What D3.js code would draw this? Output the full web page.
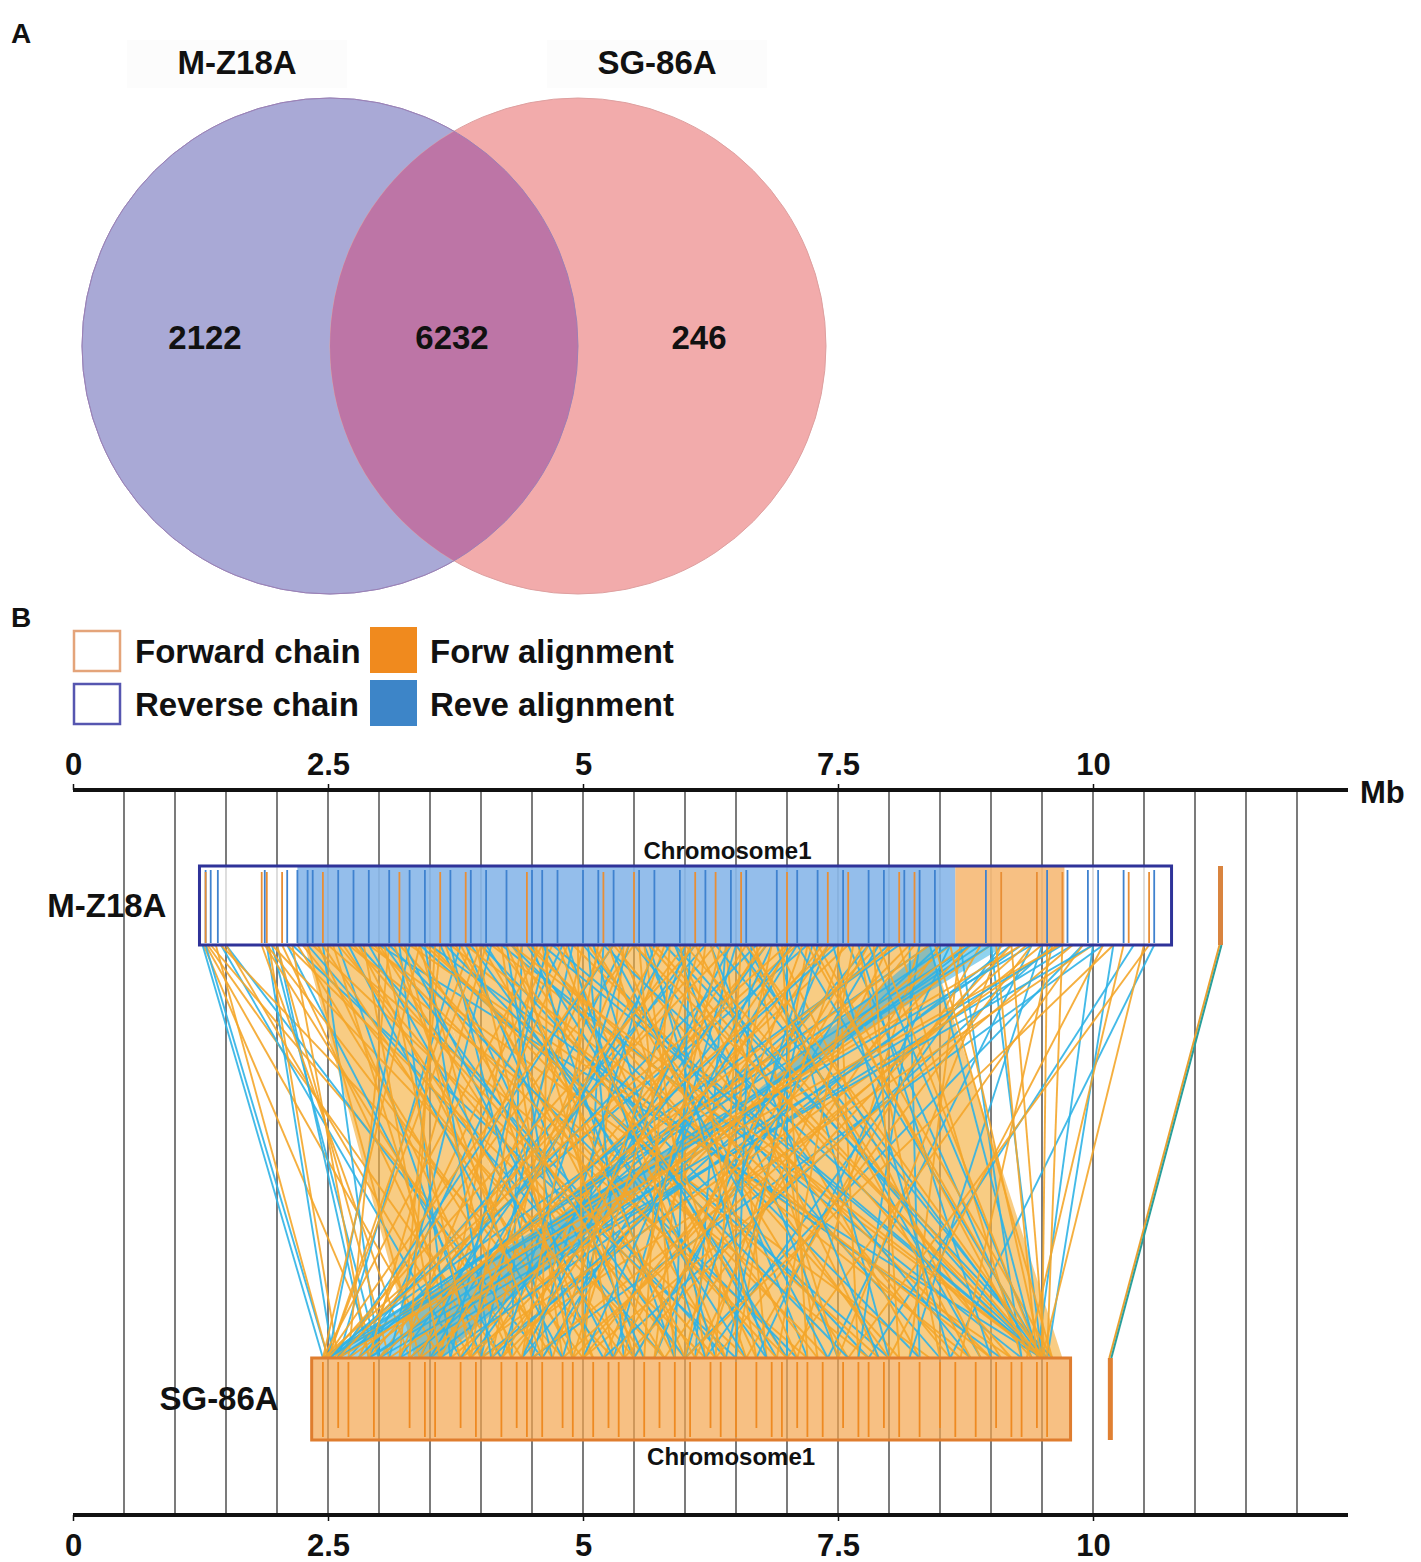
<!DOCTYPE html>
<html>
<head>
<meta charset="utf-8">
<script src="https://cdn.jsdelivr.net/npm/d3@7"></script>
<style>
  body { margin: 0; background: #fff; }
  text { font-family: "Liberation Sans", Arial, sans-serif; font-weight: bold; fill: #111; }
</style>
</head>
<body>
<svg id="chart" width="1421" height="1562"></svg>
<script>
// ---- panel A data ----
var vennSets = ["M-Z18A", "SG-86A"];
var vennCounts = [2122, 6232, 246];   // only left, shared, only right

// ---- panel B data (Mb) ----
var majorTicks = [0, 2.5, 5, 7.5, 10];
var gridTicks = [0.5, 1, 1.5, 2, 2.5, 3, 3.5, 4, 4.5, 5, 5.5, 6, 6.5, 7, 7.5, 8, 8.5, 9, 9.5, 10, 10.5, 11, 11.5, 12];
var axisEnd = 12.5;
var genomes = ["M-Z18A", "SG-86A"];
var chromTop = [1.24, 10.77];      // M-Z18A Chromosome1
var chromBottom = [2.34, 9.78];    // SG-86A Chromosome1
var contigTop = 11.25;             // small extra contig
var contigBottom = 10.17;
var topBlueFill = [2.2, 8.65];
var topOrangeFill = [8.65, 9.72];

var topBlueTicks = [1.3, 1.35, 1.42, 1.88, 2.1, 2.2, 2.3, 2.35, 2.6, 2.75, 2.9, 3.1, 3.3, 3.45, 3.7, 3.9, 4.05, 4.25, 4.5, 4.6, 4.75, 5.0, 5.15, 5.3, 5.55, 5.7, 5.95, 6.2, 6.45, 6.6, 6.9, 7.1, 7.3, 7.55, 7.8, 7.95, 8.15, 8.3, 8.45, 8.95, 9.55, 9.75, 9.95, 10.05, 10.3, 10.6];
var topOrangeTicks = [1.3, 1.85, 1.9, 2.05, 2.45, 3.2, 3.6, 3.85, 4.45, 5.2, 5.5, 6.1, 6.3, 6.55, 7.0, 7.4, 7.6, 8.1, 8.25, 9.1, 9.45, 9.7, 10.35, 10.55];
var bottomTicks = [2.45, 2.6, 2.7, 2.95, 3.3, 3.45, 3.55, 3.8, 3.95, 4.2, 4.35, 4.45, 4.6, 4.8, 4.9, 5.1, 5.25, 5.35, 5.6, 5.75, 5.9, 6.05, 6.25, 6.35, 6.5, 6.7, 6.85, 6.95, 7.1, 7.2, 7.35, 7.55, 7.7, 7.8, 7.95, 8.1, 8.3, 8.5, 8.65, 8.85, 9.05, 9.2, 9.3, 9.45, 9.55];

// blocks: [top start, top end, bottom start, bottom end]
var forwardBands = [
  [2.27, 3.5, 3.35, 4.6],
  [3.5, 5.4, 4.6, 6.3],
  [5.4, 6.9, 6.3, 8.0],
  [6.9, 8.4, 8.0, 9.7]
];
var reverseBands = [
  [8.4, 9.15, 3.6, 2.45]
];

// single links: [top, bottom]
var forwardLinks = [
  [1.28, 3.0], [1.3, 3.6], [1.32, 4.2], [1.35, 4.8], [1.4, 2.5], [1.45, 5.3], [1.5, 3.9],
  [1.85, 3.3], [1.88, 4.4], [1.9, 5.0], [1.92, 2.6], [1.95, 5.8], [2.0, 3.1], [2.05, 4.0],
  [2.1, 6.2], [2.15, 2.9], [2.2, 4.7], [2.25, 5.5], [2.3, 3.4], [2.35, 6.6], [2.4, 4.3],
  [2.45, 5.1], [2.5, 7.2], [2.55, 3.8], [2.6, 6.0], [2.7, 7.8], [2.8, 4.9], [2.9, 8.4],
  [3.0, 5.6], [3.1, 2.7], [3.2, 6.9], [3.3, 9.2], [3.4, 4.5], [3.5, 7.4], [3.6, 3.2],
  [3.7, 8.8], [3.8, 5.9], [3.9, 2.5], [4.0, 6.4], [4.1, 9.5], [4.2, 4.8], [4.3, 7.0],
  [4.4, 3.6], [4.5, 8.1], [4.6, 5.3], [4.7, 2.8], [4.8, 6.7], [4.9, 9.0], [5.0, 4.1],
  [5.1, 7.6], [5.2, 3.4], [5.3, 8.6], [5.4, 5.0], [5.5, 2.6], [5.6, 6.2], [5.7, 9.4],
  [5.8, 4.4], [5.9, 7.9], [6.0, 3.0], [6.1, 8.3], [6.2, 5.7], [6.3, 2.9], [6.4, 6.8],
  [6.5, 9.1], [6.6, 4.0], [6.7, 7.3], [6.8, 3.5], [6.9, 8.9], [7.0, 5.2], [7.1, 2.55],
  [7.2, 6.5], [7.3, 9.6], [7.4, 4.6], [7.5, 7.7], [7.6, 3.3], [7.7, 8.5], [7.8, 5.5],
  [7.9, 3.9], [8.0, 6.1], [8.1, 9.3], [8.2, 4.2], [8.3, 7.1], [8.4, 2.7], [8.5, 5.8],
  [8.6, 3.7], [8.7, 8.2], [8.8, 4.9], [8.9, 6.6], [9.0, 3.1], [9.1, 7.5], [9.2, 5.4],
  [9.3, 2.5], [9.4, 6.3], [9.5, 4.5], [9.6, 8.7], [9.65, 3.8], [9.7, 9.55],
  [9.8, 5.0], [9.9, 7.0], [10.0, 4.0], [10.1, 8.0], [10.2, 6.0], [10.3, 9.35], [10.5, 9.5], [10.55, 7.6],
  [3.05, 3.9], [3.25, 4.3], [3.45, 7.9], [3.65, 5.1], [3.85, 9.0], [4.05, 2.9], [4.25, 6.0],
  [4.45, 8.7], [4.65, 4.6], [4.85, 3.2], [5.05, 8.0], [5.25, 6.6], [5.45, 3.8], [5.65, 9.2],
  [5.85, 5.6], [6.05, 4.7], [6.25, 7.5], [6.45, 2.6], [6.65, 8.8], [6.85, 6.0], [7.05, 4.3],
  [7.25, 9.4], [7.45, 3.0], [7.65, 6.9], [7.85, 8.1], [8.05, 2.8], [8.25, 5.0], [8.45, 9.6],
  [8.75, 3.4], [9.05, 9.45], [9.35, 4.8], [9.55, 9.5], [9.68, 2.6],
  [5.5, 9.5], [6.0, 9.5], [6.6, 9.52], [7.2, 9.5], [7.9, 9.48], [8.6, 9.5], [9.2, 9.53], [4.3, 9.5],
  [3.4, 2.45], [4.0, 2.5], [4.6, 2.45], [5.3, 2.48], [6.1, 2.5], [7.0, 2.45],
  [2.65, 5.4], [2.75, 6.3], [2.85, 3.6], [2.95, 7.0], [3.15, 4.6], [3.35, 5.8], [3.55, 3.3],
  [3.75, 6.1], [3.95, 4.9], [4.15, 7.3], [4.35, 5.5], [4.55, 3.9], [4.75, 6.4], [4.95, 5.0],
  [5.15, 4.4], [5.35, 7.1], [5.55, 5.9], [5.75, 3.6], [5.95, 6.7], [6.15, 4.9], [6.35, 5.4],
  [6.55, 6.3], [6.75, 4.2], [6.95, 7.2], [7.15, 5.7], [7.35, 4.1], [7.55, 6.2], [7.75, 5.3]
];
var reverseLinks = [
  [1.27, 2.45], [1.3, 2.5], [1.45, 3.8], [1.5, 4.6], [1.9, 2.55], [1.95, 3.0], [2.0, 2.9],
  [2.1, 4.2], [2.15, 6.5], [2.3, 5.8], [2.45, 3.0], [2.6, 4.0],
  [2.8, 6.4], [3.0, 9.5], [3.2, 3.7], [3.4, 8.0], [3.6, 5.5], [3.8, 2.6], [4.0, 7.8],
  [4.2, 9.3], [4.4, 4.3], [4.6, 6.9], [4.8, 2.9], [5.0, 8.5], [5.2, 5.0], [5.4, 3.4],
  [5.6, 7.2], [5.8, 9.6], [6.0, 4.8], [6.2, 2.7], [6.4, 6.1], [6.6, 8.9], [6.8, 3.9],
  [7.0, 7.0], [7.2, 2.5], [7.4, 5.7], [7.6, 9.4], [7.8, 4.4], [8.0, 3.3], [8.2, 8.3],
  [8.4, 2.6], [8.6, 6.7], [8.8, 3.5], [9.0, 9.5], [9.2, 4.0], [9.4, 7.4], [9.6, 5.2],
  [9.8, 3.2], [9.9, 6.0], [10.0, 9.45], [10.1, 4.5], [10.2, 9.55], [10.4, 7.8], [10.6, 8.6],
  [2.9, 5.2], [3.1, 7.1], [3.3, 2.5], [3.5, 9.1], [3.7, 4.7], [3.9, 6.8], [4.1, 3.1],
  [4.3, 8.3], [4.5, 5.9], [4.7, 9.5], [4.9, 4.0], [5.1, 6.3], [5.3, 2.6], [5.5, 8.8],
  [5.7, 4.5], [5.9, 7.5], [6.1, 3.2], [6.3, 9.55], [6.5, 5.3], [6.7, 2.8], [6.9, 8.0],
  [7.1, 4.6], [7.3, 6.4], [7.5, 3.0], [7.7, 9.0], [7.9, 5.5], [8.1, 2.45], [8.3, 7.7],
  [8.5, 4.1], [8.7, 9.3], [8.9, 2.9], [9.1, 6.2], [9.3, 3.6], [9.5, 8.2],
  [5.2, 9.5], [5.9, 9.48], [6.5, 9.5], [7.1, 9.52], [7.8, 9.5], [8.4, 9.46], [4.6, 9.5],
  [8.6, 2.5], [8.8, 2.45], [9.0, 2.6], [9.4, 2.5], [9.7, 2.9], [10.0, 3.0],
  [2.7, 4.8], [3.05, 6.0], [3.25, 5.3], [3.45, 4.1], [3.65, 7.6], [3.85, 5.6], [4.05, 6.6],
  [4.25, 4.9], [4.45, 7.0], [4.65, 3.7], [4.85, 6.2], [5.05, 5.4], [5.25, 7.4], [5.45, 4.2],
  [5.65, 6.8], [5.85, 3.5], [6.05, 5.9], [6.25, 7.9], [6.45, 4.4], [6.65, 6.5], [6.85, 5.0],
  [7.05, 3.8], [7.25, 6.0], [7.45, 8.6]
];

var legendItems = [
  { label: "Forward chain", kind: "chainF" },
  { label: "Reverse chain", kind: "chainR" },
  { label: "Forw alignment", kind: "alnF" },
  { label: "Reve alignment", kind: "alnR" }
];

var svg = d3.select("#chart");

// ================= Panel A : Venn =================
svg.append("text").attr("x", 11).attr("y", 43).style("font-size", "28px").text("A");

var vx = d3.scaleLinear().domain([0, 1]).range([330, 578]);   // circle centres
var vr = 248, vcy = 346;
var hdrX = [237, 657];
var defs = svg.append("defs");
defs.append("clipPath").attr("id", "leftClip")
  .append("circle").attr("cx", vx(0)).attr("cy", vcy).attr("r", vr);

var venn = svg.append("g");
venn.selectAll("rect.hdr").data(vennSets).enter().append("rect")
  .attr("x", function (d, i) { return hdrX[i] - 110; })
  .attr("y", 40).attr("width", 220).attr("height", 48)
  .attr("fill", "#fcfcfc");
venn.append("circle").attr("cx", vx(0)).attr("cy", vcy).attr("r", vr)
  .attr("fill", "#a9a9d6").attr("stroke", "#9a9ac8").attr("stroke-width", 1);
venn.append("circle").attr("cx", vx(1)).attr("cy", vcy).attr("r", vr)
  .attr("fill", "#f2abab").attr("stroke", "#dea0a0").attr("stroke-width", 1);
venn.append("circle").attr("cx", vx(1)).attr("cy", vcy).attr("r", vr)
  .attr("clip-path", "url(#leftClip)")
  .attr("fill", "#bd75a6");
venn.append("circle").attr("cx", vx(0)).attr("cy", vcy).attr("r", vr)
  .attr("fill", "none").attr("stroke", "#9d80b5").attr("stroke-width", 1);

venn.selectAll("text.set").data(vennSets).enter().append("text")
  .attr("x", function (d, i) { return hdrX[i]; })
  .attr("y", 74).attr("text-anchor", "middle").style("font-size", "33px")
  .text(function (d) { return d; });
venn.selectAll("text.cnt").data(vennCounts).enter().append("text")
  .attr("x", function (d, i) { return vx(0) - 125 + i * 247; })
  .attr("y", 349).attr("text-anchor", "middle").style("font-size", "33px")
  .text(function (d) { return d; });

// ================= Panel B : synteny =================
svg.append("text").attr("x", 11).attr("y", 627).style("font-size", "28px").text("B");

// legend
var leg = svg.append("g").selectAll("g").data(legendItems).enter().append("g")
  .attr("transform", function (d, i) { return "translate(" + (i < 2 ? 73 : 370) + "," + (i % 2 ? 683 : 630) + ")"; });
leg.append("rect")
  .attr("x", function (d) { return d.kind.indexOf("chain") === 0 ? 1 : 0; })
  .attr("y", function (d) { return d.kind.indexOf("chain") === 0 ? 1 : -3; })
  .attr("width", function (d) { return d.kind.indexOf("chain") === 0 ? 46 : 47; })
  .attr("height", function (d) { return d.kind.indexOf("chain") === 0 ? 40 : 46; })
  .attr("fill", function (d) { return d.kind === "alnF" ? "#f08a1e" : d.kind === "alnR" ? "#3d85c8" : "#fff"; })
  .attr("stroke", function (d) { return d.kind === "chainF" ? "#e4a47a" : d.kind === "chainR" ? "#5656b0" : "none"; })
  .attr("stroke-width", 2.5);
leg.append("text").attr("x", function (d) { return d.kind.indexOf("chain") === 0 ? 62 : 60; })
  .attr("y", 33).style("font-size", "33px").text(function (d) { return d.label; });

var x = d3.scaleLinear().domain([0, 10]).range([73, 1093]);
var yTopAxis = 790, yBotAxis = 1515;
var topBox = [866, 945], botBox = [1358, 1440];

// grid lines
svg.append("g").selectAll("line").data(gridTicks).enter().append("line")
  .attr("x1", function (d) { return x(d); }).attr("x2", function (d) { return x(d); })
  .attr("y1", yTopAxis).attr("y2", yBotAxis)
  .attr("stroke", "#333").attr("stroke-width", 1.3);

// axes
var axT = svg.append("g").attr("transform", "translate(0," + yTopAxis + ")")
  .call(d3.axisTop(x).tickValues(majorTicks).tickSize(6).tickPadding(9).tickFormat(function (d) { return String(d); }));
var axB = svg.append("g").attr("transform", "translate(0," + yBotAxis + ")")
  .call(d3.axisBottom(x).tickValues(majorTicks).tickSize(6).tickPadding(13).tickFormat(function (d) { return String(d); }));
[axT, axB].forEach(function (ax) {
  ax.select(".domain").remove();
  ax.selectAll(".tick line").attr("stroke", "#111").attr("stroke-width", 1.5);
  ax.selectAll("text").attr("fill", "#111").style("font-size", "31px")
    .style("font-family", "'Liberation Sans', Arial, sans-serif").style("font-weight", "bold");
  ax.append("line").attr("x1", x(0)).attr("x2", x(axisEnd)).attr("y1", 0).attr("y2", 0)
    .attr("stroke", "#111").attr("stroke-width", 4);
});
svg.append("text").attr("x", x(axisEnd) + 12).attr("y", yTopAxis + 13).style("font-size", "31px").text("Mb");

// synteny bands
var links = svg.append("g");
function bandPath(b) {
  return "M" + x(b[0]) + "," + topBox[1] + "L" + x(b[1]) + "," + topBox[1] +
         "L" + x(b[3]) + "," + botBox[0] + "L" + x(b[2]) + "," + botBox[0] + "Z";
}
links.selectAll("path.fb").data(forwardBands).enter().append("path")
  .attr("d", bandPath).attr("fill", "#f5b041").attr("fill-opacity", 0.65);
links.selectAll("path.rb").data(reverseBands).enter().append("path")
  .attr("d", bandPath).attr("fill", "#35aee2").attr("fill-opacity", 0.55);

// single links, interleaved like the original drawing order
var allLinks = [];
var n = Math.max(forwardLinks.length, reverseLinks.length);
for (var i = 0; i < n; i++) {
  if (i < forwardLinks.length) allLinks.push({ t: forwardLinks[i][0], b: forwardLinks[i][1], c: "#f4a62a" });
  if (i < reverseLinks.length) allLinks.push({ t: reverseLinks[i][0], b: reverseLinks[i][1], c: "#2fb2e6" });
}
links.selectAll("line").data(allLinks).enter().append("line")
  .attr("x1", function (d) { return x(d.t); }).attr("y1", topBox[1])
  .attr("x2", function (d) { return x(d.b); }).attr("y2", botBox[0])
  .attr("stroke", function (d) { return d.c; }).attr("stroke-width", 1.9).attr("stroke-opacity", 0.9);

// extra contig link (orange + blue overlapped)
links.append("line").attr("x1", x(contigTop) - 1).attr("y1", topBox[1]).attr("x2", x(contigBottom) - 1).attr("y2", botBox[0])
  .attr("stroke", "#e9a030").attr("stroke-width", 2);
links.append("line").attr("x1", x(contigTop) + 1).attr("y1", topBox[1]).attr("x2", x(contigBottom) + 1).attr("y2", botBox[0])
  .attr("stroke", "#2a9f9a").attr("stroke-width", 2);

// M-Z18A chromosome
var chrA = svg.append("g");
chrA.append("rect").attr("x", x(chromTop[0])).attr("y", topBox[0])
  .attr("width", x(chromTop[1]) - x(chromTop[0])).attr("height", topBox[1] - topBox[0])
  .attr("fill", "#fff").attr("fill-opacity", 0.75);
chrA.append("rect").attr("x", x(topBlueFill[0])).attr("y", topBox[0])
  .attr("width", x(topBlueFill[1]) - x(topBlueFill[0])).attr("height", topBox[1] - topBox[0])
  .attr("fill", "#5b9be0").attr("fill-opacity", 0.65);
chrA.append("rect").attr("x", x(topOrangeFill[0])).attr("y", topBox[0])
  .attr("width", x(topOrangeFill[1]) - x(topOrangeFill[0])).attr("height", topBox[1] - topBox[0])
  .attr("fill", "#f3a54f").attr("fill-opacity", 0.7);
chrA.selectAll("line.b").data(topBlueTicks).enter().append("line")
  .attr("x1", function (d) { return x(d); }).attr("x2", function (d) { return x(d); })
  .attr("y1", topBox[0] + 4).attr("y2", topBox[1] - 2)
  .attr("stroke", "#3f82cf").attr("stroke-width", 1.8);
chrA.selectAll("line.o").data(topOrangeTicks).enter().append("line")
  .attr("x1", function (d) { return x(d); }).attr("x2", function (d) { return x(d); })
  .attr("y1", topBox[0] + 6).attr("y2", topBox[1] - 2)
  .attr("stroke", "#e88e35").attr("stroke-width", 1.8);
chrA.append("rect").attr("x", x(chromTop[0])).attr("y", topBox[0])
  .attr("width", x(chromTop[1]) - x(chromTop[0])).attr("height", topBox[1] - topBox[0])
  .attr("fill", "none").attr("stroke", "#2f3399").attr("stroke-width", 3);
chrA.append("rect").attr("x", x(contigTop) - 2.5).attr("y", topBox[0]).attr("width", 5).attr("height", topBox[1] - topBox[0])
  .attr("fill", "#d9843f");

// SG-86A chromosome
var chrB = svg.append("g");
chrB.append("rect").attr("x", x(chromBottom[0])).attr("y", botBox[0])
  .attr("width", x(chromBottom[1]) - x(chromBottom[0])).attr("height", botBox[1] - botBox[0])
  .attr("fill", "#f3a54f").attr("fill-opacity", 0.7);
chrB.selectAll("line").data(bottomTicks).enter().append("line")
  .attr("x1", function (d) { return x(d); }).attr("x2", function (d) { return x(d); })
  .attr("y1", botBox[0] + 4).attr("y2", function (d, i) { return botBox[1] - (i % 3 === 1 ? 12 : 3); })
  .attr("stroke", "#ee8a22").attr("stroke-width", 1.8);
chrB.append("rect").attr("x", x(chromBottom[0])).attr("y", botBox[0])
  .attr("width", x(chromBottom[1]) - x(chromBottom[0])).attr("height", botBox[1] - botBox[0])
  .attr("fill", "none").attr("stroke", "#df7d2e").attr("stroke-width", 3);
chrB.append("rect").attr("x", x(contigBottom) - 2.5).attr("y", botBox[0]).attr("width", 5).attr("height", botBox[1] - botBox[0])
  .attr("fill", "#e08033");

// labels
svg.append("text").attr("x", (x(chromTop[0]) + x(chromTop[1])) / 2 + 42).attr("y", topBox[0] - 7)
  .attr("text-anchor", "middle").style("font-size", "24px").text("Chromosome1");
svg.append("text").attr("x", (x(chromBottom[0]) + x(chromBottom[1])) / 2 + 40).attr("y", botBox[1] + 25)
  .attr("text-anchor", "middle").style("font-size", "24px").text("Chromosome1");
svg.append("text").attr("x", x(chromTop[0]) - 33).attr("y", (topBox[0] + topBox[1]) / 2 + 11)
  .attr("text-anchor", "end").style("font-size", "33px").text(genomes[0]);
svg.append("text").attr("x", x(chromBottom[0]) - 33).attr("y", (botBox[0] + botBox[1]) / 2 + 11)
  .attr("text-anchor", "end").style("font-size", "33px").text(genomes[1]);
</script>
</body>
</html>
